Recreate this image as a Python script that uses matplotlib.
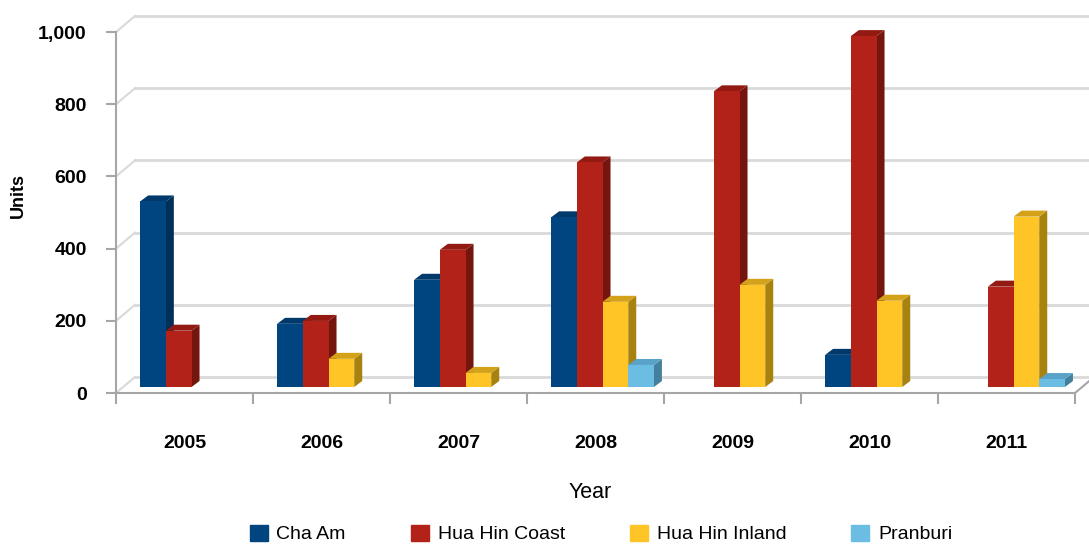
import numpy as np
import matplotlib
matplotlib.use("Agg")
import matplotlib.pyplot as plt
from matplotlib.patches import Polygon, Patch
from matplotlib.transforms import ScaledTranslation


# ==========================================================
# Data
# ==========================================================

years = ["2005", "2006", "2007", "2008", "2009", "2010", "2011"]
series_names = ["Cha Am", "Hua Hin Coast", "Hua Hin Inland", "Pranburi"]
cha_am = [514, 175, 297, 470, 0, 89, 0]
hua_hin_coast = [156, 183, 380, 622, 819, 972, 278]
hua_hin_inland = [0, 78, 39, 236, 283, 239, 472]
pranburi = [0, 0, 0, 61, 0, 0, 22]
y_ticks = [0, 200, 400, 600, 800, 1000]

front_colors = ["#004480", "#b22218", "#ffc425", "#6bbde4"]
top_colors = ["#003a6c", "#921a12", "#d4a21a", "#5aa3c8"]
side_colors = ["#002f58", "#74150e", "#a8820f", "#44809e"]


# ==========================================================
# Layout helpers (pixel geometry of the fake 3D box)
# ==========================================================

W_PX, H_PX = 1089, 544
ax_left, ax_right = 116, 1075
ax_top, ax_bottom = 32, 393

fig = plt.figure(figsize=(W_PX / 100, H_PX / 100), dpi=100)
ax = fig.add_axes([ax_left / W_PX, 1 - ax_bottom / H_PX,
                   (ax_right - ax_left) / W_PX, (ax_bottom - ax_top) / H_PX])
ax.set_xlim(0, len(years))
ax.set_ylim(0, 1000)

# data units per pixel
ux = len(years) / (ax_right - ax_left)
uy = 1000 / (ax_bottom - ax_top)

wall_dx, wall_dy = 19, 16      # back wall offset, px
lift_dx, lift_dy = 7, 6        # bar front plane offset, px
depth_dx, depth_dy = 8, 6      # bar depth, px

grid_col = "#d9d9d9"
axis_col = "#a6a6a6"

# back wall grid lines + left wall diagonals
wall = ax.transData + ScaledTranslation(wall_dx / 100, wall_dy / 100, fig.dpi_scale_trans)
for t in y_ticks:
    ax.plot([0, len(years) + 0.2], [t, t], color=grid_col, lw=2, transform=wall,
            clip_on=False, zorder=1)
    ax.plot([0, wall_dx * ux], [t, t + wall_dy * uy], color=grid_col, lw=1.5,
            clip_on=False, zorder=1)
ax.plot([len(years), len(years) + wall_dx * ux], [0, wall_dy * uy],
        color=axis_col, lw=1.5, clip_on=False, zorder=1)


# ==========================================================
# Bars
# ==========================================================

values = [cha_am, hua_hin_coast, hua_hin_inland, pranburi]
bar_w = 0.1876
start = 0.125 + lift_dx * ux
lift = lift_dy * uy
ddx, ddy = depth_dx * ux, depth_dy * uy

x = np.arange(len(years))
for j, vals in enumerate(values):
    vals = np.array(vals, dtype=float)
    xs = x + start + j * bar_w
    mask = vals > 0
    ax.bar(xs[mask], vals[mask], width=bar_w, bottom=lift, align="edge",
           color=front_colors[j], zorder=3 + j, clip_on=False)
    for x0, v in zip(xs[mask], vals[mask]):
        x1 = x0 + bar_w
        top = v + lift
        side = Polygon([(x1, lift), (x1, top), (x1 + ddx, top + ddy), (x1 + ddx, lift + ddy)],
                       closed=True, fc=side_colors[j], ec="none", zorder=2.9 + j, clip_on=False)
        cap = Polygon([(x0, top), (x1, top), (x1 + ddx, top + ddy), (x0 + ddx, top + ddy)],
                      closed=True, fc=top_colors[j], ec="none", zorder=2.9 + j, clip_on=False)
        ax.add_patch(side)
        ax.add_patch(cap)


# ==========================================================
# Axes styling
# ==========================================================

for s in ["top", "right"]:
    ax.spines[s].set_visible(False)
for s in ["left", "bottom"]:
    ax.spines[s].set_color(axis_col)
    ax.spines[s].set_linewidth(1.5)

font = "Liberation Sans"
ax.set_yticks(y_ticks)
ax.set_yticklabels([f"{t:,}" for t in y_ticks], fontsize=14, fontweight="bold",
                   family=font)
ax.tick_params(axis="y", length=7, width=1.5, color=axis_col, pad=14)

ax.set_xticks(x + 0.5)
ax.set_xticklabels(years, fontsize=14, fontweight="bold", family=font)
ax.set_xticks(np.arange(len(years) + 1), minor=True)
ax.tick_params(axis="x", which="major", length=0, pad=30)
ax.tick_params(axis="x", which="minor", length=8, width=1.5, color=axis_col)

fig.text(18 / W_PX, 1 - 195 / H_PX, "Units", rotation=90, ha="center", va="center",
         fontsize=13, fontweight="bold", family=font)
fig.text(590 / W_PX, 1 - 492 / H_PX, "Year", ha="center", va="center",
         fontsize=15.5, family=font)

handles = [Patch(color=c) for c in front_colors]
fig.legend(handles, series_names, loc="center", bbox_to_anchor=(601 / W_PX, 1 - 534 / H_PX),
           ncol=4, frameon=False, prop={"family": font, "size": 14},
           handlelength=0.92, handleheight=0.92, handletextpad=0.45, columnspacing=3.35)

fig.savefig("out.png", dpi=100)
